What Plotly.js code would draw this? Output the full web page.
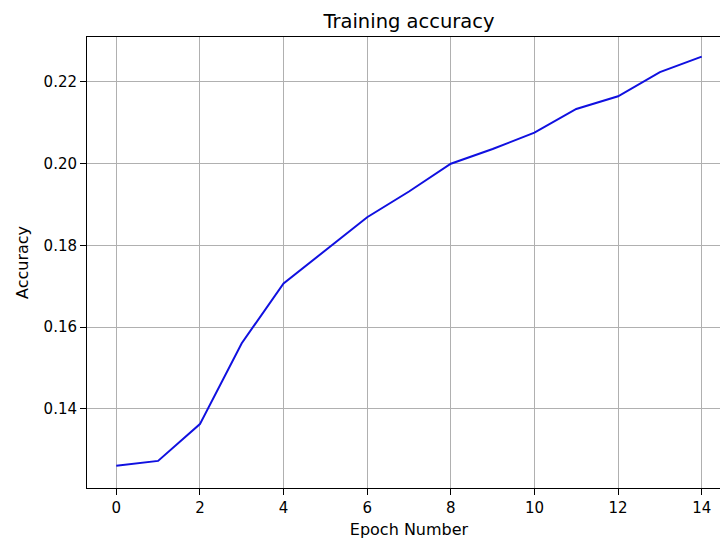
<!DOCTYPE html>
<html>
<head>
<meta charset="utf-8">
<script src="https://cdn.plot.ly/plotly-3.0.1.min.js"></script>
<style>
html, body { margin: 0; padding: 0; overflow: hidden; background: #fff; width: 720px; height: 540px; }
#chart { width: 740px; height: 540px; }
</style>
</head>
<body>
<div id="chart"></div>
<script>
var epochs = [0, 1, 2, 3, 4, 5, 6, 7, 8, 9, 10, 11, 12, 13, 14];
var accuracy = [0.1261, 0.1273, 0.1363, 0.1561, 0.1707, 0.1789, 0.1869, 0.1932, 0.2000, 0.2036, 0.2076, 0.2134, 0.2165, 0.2224, 0.2262];
var xTicks = [0, 2, 4, 6, 8, 10, 12, 14];
var yTicks = [0.14, 0.16, 0.18, 0.20, 0.22];

var font = "DejaVu Sans, sans-serif";

var trace = {
  x: epochs,
  y: accuracy,
  type: "scatter",
  mode: "lines",
  line: { color: "#1010e0", width: 2 },
  hoverinfo: "skip"
};

var layout = {
  width: 740,
  height: 540,
  margin: { l: 87, r: 9, t: 37, b: 52 },
  paper_bgcolor: "#ffffff",
  plot_bgcolor: "#ffffff",
  showlegend: false,
  font: { family: font, color: "#000", size: 15 },
  title: {
    text: "Training accuracy",
    font: { family: font, size: 19.5, color: "#000" },
    x: 0.5, xref: "paper", xanchor: "center",
    y: 1, yref: "paper", yanchor: "bottom",
    pad: { b: 9 }
  },
  xaxis: {
    range: [-0.7, 14.7],
    tickvals: xTicks,
    ticktext: xTicks.map(String),
    ticks: "outside", ticklen: 6, tickwidth: 1, tickcolor: "#000",
    showline: true, linecolor: "#000", linewidth: 1, mirror: true,
    showgrid: true, gridcolor: "#b0b0b0", gridwidth: 1,
    zeroline: false,
    tickfont: { family: font, size: 15, color: "#000" },
    title: { text: "Epoch Number", font: { family: font, size: 16, color: "#000" }, standoff: 7 }
  },
  yaxis: {
    range: [0.12067, 0.2310],
    tickvals: yTicks,
    ticktext: yTicks.map(function (v) { return v.toFixed(2); }),
    ticks: "outside", ticklen: 6, tickwidth: 1, tickcolor: "#000",
    showline: true, linecolor: "#000", linewidth: 1, mirror: false,
    showgrid: true, gridcolor: "#b0b0b0", gridwidth: 1,
    zeroline: false,
    tickfont: { family: font, size: 15, color: "#000" },
    title: { text: "Accuracy", font: { family: font, size: 16, color: "#000" }, standoff: 10 }
  }
};

Plotly.newPlot("chart", [trace], layout, { displayModeBar: false, staticPlot: true });
</script>
</body>
</html>
